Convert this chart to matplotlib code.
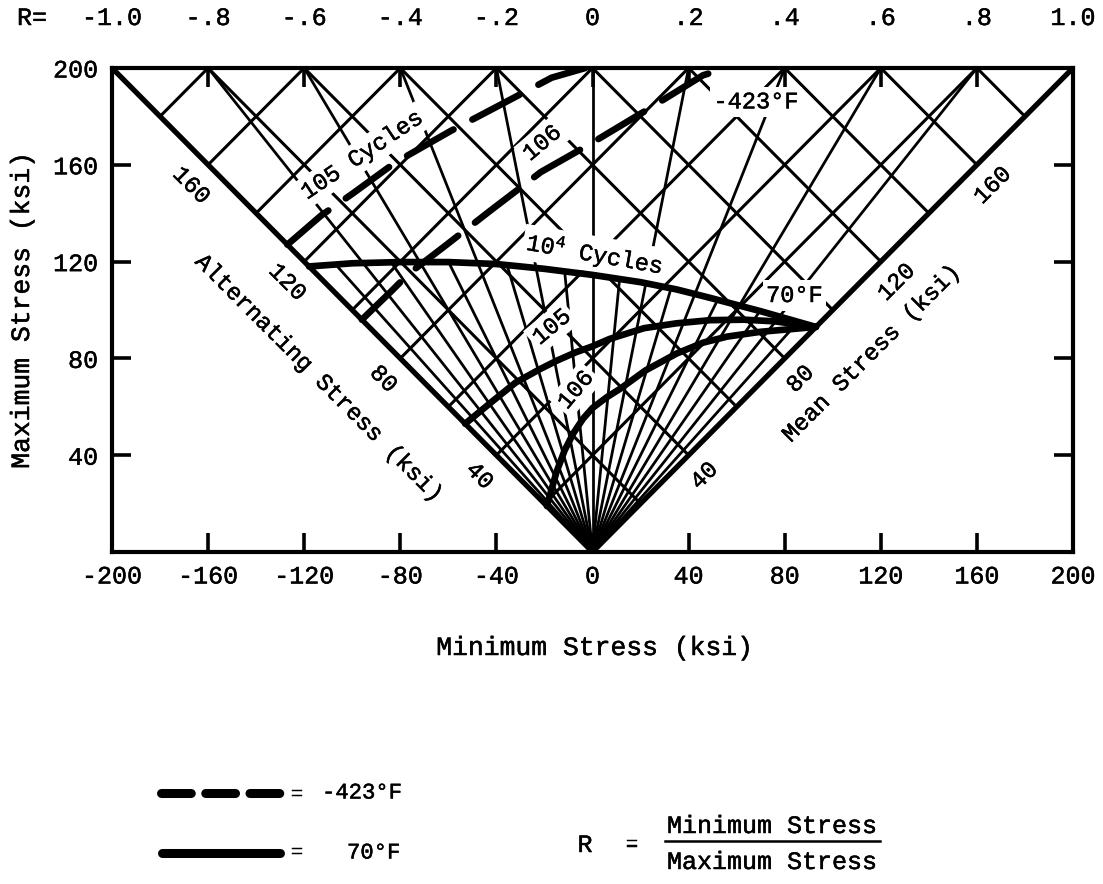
import numpy as np
import matplotlib
matplotlib.use("Agg")
import matplotlib.pyplot as plt
import matplotlib.transforms as mtransforms
import matplotlib.patheffects as pe
from matplotlib.lines import Line2D

FONT = "Liberation Mono"
plt.rcParams["font.family"] = [FONT, "DejaVu Sans Mono"]
plt.rcParams["mathtext.fontset"] = "custom"
plt.rcParams["mathtext.rm"] = FONT
plt.rcParams["mathtext.it"] = FONT
plt.rcParams["mathtext.bf"] = FONT

INKED = [pe.withStroke(linewidth=0.35, foreground="black")]

# ---------------- data ----------------
x_ticks = [-200, -160, -120, -80, -40, 0, 40, 80, 120, 160, 200]
y_ticks = [40, 80, 120, 160, 200]
r_tick_values = [-1.0, -0.8, -0.6, -0.4, -0.2, 0.0, 0.2, 0.4, 0.6, 0.8, 1.0]
r_tick_labels = ["-1.0", "-.8", "-.6", "-.4", "-.2", "0", ".2", ".4", ".6", ".8", "1.0"]
grid_levels = [20, 40, 60, 80, 100, 120, 140, 160, 180]   # alternating / mean stress lattice (ksi)
scale_levels = [40, 80, 120, 160]                         # labelled stress values
r_lines_full = [-0.8, -0.6, -0.4, -0.2, 0.0, 0.2, 0.4, 0.6, 0.8]
r_lines_short = [-0.9, -0.7, -0.5, -0.3, -0.1, 0.1, 0.3, 0.5, 0.7, 0.9]

# 70 F curves (minimum stress, maximum stress)
rt_1e4_min = [-118, -100, -80, -60, -40, -20, 0, 20, 35, 49, 70, 93]
rt_1e4_max = [118, 119.3, 119.8, 119.8, 119, 117, 114.5, 111.5, 108.5, 105, 99.5, 93]
rt_1e5_min = [-53, -42, -32, -22, -15, -7, 0, 7, 21.5, 35, 49, 63, 76, 93]
rt_1e5_max = [53, 62, 70, 75.5, 79, 82.5, 85, 88, 92.5, 94.5, 95.8, 96, 95.3, 93]
rt_1e6_min = [-19, -17, -15, -11.6, -8, -4, 0, 6, 11.6, 22, 35, 46, 56, 70, 93]
rt_1e6_max = [19, 26, 33, 42, 49, 55, 59.5, 64, 67.5, 75, 82, 86.5, 89, 91, 93]

# -423 F curves
cryo_1e5_min = [-127, -113, -100, -82, -59, -36, -17, -3]
cryo_1e5_max = [127, 139, 148, 161, 174, 186, 196, 200]
cryo_1e6_min = [-96, -83.5, -76.5, -62, -42.6, -21.5, -2, 21.5, 46, 56]
cryo_1e6_max = [96, 108, 115, 126, 141, 157, 168, 182, 197, 200]

legend_labels = ["-423\u00b0F", "70\u00b0F"]

# ---------------- figure ----------------
W, H = 1103, 884
fig = plt.figure(figsize=(W / 100, H / 100), dpi=100)
ax = fig.add_axes([112 / W, 1 - 552 / H, (1073 - 112) / W, (552 - 68) / H])
ax.set_xlim(-200, 200)
ax.set_ylim(0, 200)

LW_GRID = 2.2
LW_EDGE = 3.8
LW_CURVE = 4.8
INK = "black"


def txt(target, *args, **kw):
    t = target.text(*args, **kw)
    t.set_path_effects(INKED)
    return t


# lattice of constant mean and alternating stress
for v in grid_levels:
    ax.plot([v, 2 * v - 200], [v, 200], color=INK, lw=LW_GRID, zorder=2,
            solid_capstyle="butt")
    ax.plot([-v, 200 - 2 * v], [v, 200], color=INK, lw=LW_GRID, zorder=2,
            solid_capstyle="butt")

# radial constant-R lines
for r in r_lines_full:
    ax.plot([0, 200 * r], [0, 200], color=INK, lw=LW_GRID * 0.9, zorder=2)

fx = np.array(rt_1e4_min, float)
fy = np.array(rt_1e4_max, float)
ys = np.linspace(1, 125, 2000)
for r in r_lines_short:
    curve_at = np.interp(r * ys, fx, fy)
    idx = np.argmin(np.abs(curve_at - ys))
    ytop = ys[idx]
    ax.plot([0, r * ytop], [0, ytop], color=INK, lw=LW_GRID * 0.9, zorder=2)

# triangle edges (R = -1 and R = +1)
ax.plot([0, -200], [0, 200], color=INK, lw=LW_EDGE, zorder=5, solid_capstyle="round")
ax.plot([0, 200], [0, 200], color=INK, lw=LW_EDGE, zorder=5, solid_capstyle="round")

# 70 F solid curves
for xs_, ys_ in [(rt_1e4_min, rt_1e4_max), (rt_1e5_min, rt_1e5_max), (rt_1e6_min, rt_1e6_max)]:
    ax.plot(xs_, ys_, color=INK, lw=LW_CURVE, zorder=6, solid_joinstyle="round",
            solid_capstyle="round")

# -423 F dashed curves
for xs_, ys_ in [(cryo_1e5_min, cryo_1e5_max), (cryo_1e6_min, cryo_1e6_max)]:
    ax.plot(xs_, ys_, color=INK, lw=LW_CURVE, zorder=6, dashes=(8, 3.2),
            dash_capstyle="round", dash_joinstyle="round")

# axes styling
for s in ax.spines.values():
    s.set_linewidth(3.0)
ax.set_xticks(x_ticks)
ax.set_xticklabels([str(t) for t in x_ticks])
ax.set_yticks(y_ticks)
ax.set_yticklabels([str(t) for t in y_ticks])
ax.tick_params(axis="both", direction="in", length=14, width=2.6, labelsize=18,
               top=True, right=True, labeltop=False, labelright=False)
ax.tick_params(axis="x", pad=9)
ax.tick_params(axis="y", pad=10)
for lab in ax.get_xticklabels() + ax.get_yticklabels():
    lab.set_path_effects(INKED)

# R scale along the top
top_tr = mtransforms.blended_transform_factory(ax.transData, fig.transFigure)
for rv, rl in zip(r_tick_values, r_tick_labels):
    txt(ax, 200 * rv, 1 - 18 / H, rl, transform=top_tr, ha="center", va="center",
        fontsize=18, clip_on=False)
txt(fig, 32 / W, 1 - 18 / H, "R=", ha="center", va="center", fontsize=18)

# axis titles
txt(fig, 595 / W, 1 - 648 / H, "Minimum Stress (ksi)", ha="center", va="center", fontsize=19)
txt(fig, 22 / W, 1 - 310 / H, "Maximum Stress (ksi)", ha="center", va="center",
    fontsize=19, rotation=90)

# scale labels along the edges
gap = dict(boxstyle="square,pad=0.15", fc="white", ec="none")
for v in scale_levels:
    txt(ax, -v - 7, v - 8.5, str(v), rotation=-45, ha="center", va="center",
        fontsize=17, zorder=7)
    txt(ax, v + 6.5, v - 8.5, str(v), rotation=45, ha="center", va="center",
        fontsize=17, zorder=7)
txt(ax, -114, 72, "Alternating Stress (ksi)", rotation=-45, ha="center", va="center",
    fontsize=17, zorder=7)
txt(ax, 116, 82, "Mean Stress (ksi)", rotation=45, ha="center", va="center",
    fontsize=17, zorder=7)

# curve labels (white background breaks the grid, as in the original)
txt(ax, -96, 164, "105 Cycles", rotation=34, ha="center", va="center", fontsize=17,
    bbox=gap, zorder=4)
txt(ax, -21, 169, "106", rotation=40, ha="center", va="center", fontsize=17,
    bbox=gap, zorder=4)
txt(ax, 1, 123, r"10$^{\mathrm{4}}$ Cycles", rotation=-10, ha="center", va="center",
    fontsize=17, bbox=gap, zorder=4)
txt(ax, -17, 93, "105", rotation=40, ha="center", va="center", fontsize=17,
    bbox=gap, zorder=4)
txt(ax, -7, 67, "106", rotation=50, ha="center", va="center", fontsize=17,
    bbox=gap, zorder=4)
txt(ax, 68, 186, legend_labels[0], ha="center", va="center", fontsize=17,
    bbox=gap, zorder=4)
txt(ax, 84, 106, legend_labels[1], ha="center", va="center", fontsize=17,
    bbox=gap, zorder=4)

# legend at the bottom
fig.add_artist(Line2D([161 / W, 283 / W], [1 - 793 / H] * 2, transform=fig.transFigure,
                      color=INK, lw=6.5, dashes=(3.3, 1.6), dash_capstyle="round"))
fig.add_artist(Line2D([162 / W, 280 / W], [1 - 853 / H] * 2, transform=fig.transFigure,
                      color=INK, lw=6.5, solid_capstyle="round"))
txt(fig, 297 / W, 1 - 795 / H, "=", ha="center", va="center", fontsize=14)
txt(fig, 297 / W, 1 - 853 / H, "=", ha="center", va="center", fontsize=14)
txt(fig, 322 / W, 1 - 793 / H, legend_labels[0], ha="left", va="center", fontsize=16)
txt(fig, 347 / W, 1 - 853 / H, legend_labels[1], ha="left", va="center", fontsize=16)

txt(fig, 585 / W, 1 - 845 / H, "R", ha="center", va="center", fontsize=18)
txt(fig, 632 / W, 1 - 845 / H, "=", ha="center", va="center", fontsize=16)
txt(fig, 772 / W, 1 - 826 / H, "Minimum Stress", ha="center", va="center", fontsize=18)
txt(fig, 772 / W, 1 - 862 / H, "Maximum Stress", ha="center", va="center", fontsize=18)
fig.add_artist(Line2D([665 / W, 880 / W], [1 - 841 / H] * 2, transform=fig.transFigure,
                      color=INK, lw=1.8))

fig.savefig("out.png", dpi=100, facecolor="white")
